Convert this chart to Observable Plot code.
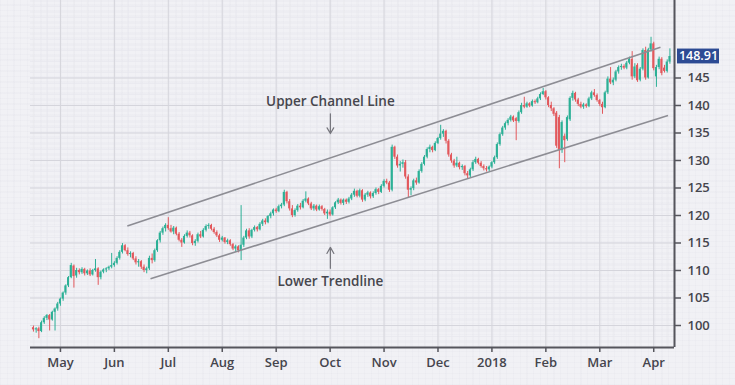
<!DOCTYPE html>
<html><head><meta charset="utf-8">
<script src="https://cdn.jsdelivr.net/npm/d3@7"></script>
<script src="https://cdn.jsdelivr.net/npm/@observablehq/plot@0.6"></script>
<style>
html,body{margin:0;padding:0;}
body{width:735px;height:385px;overflow:hidden;background-color:#f1f1f5;
background-image:repeating-linear-gradient(0deg, rgba(90,90,130,0.025) 0 1px, transparent 1px 5.5px),repeating-linear-gradient(90deg, rgba(90,90,130,0.025) 0 1px, transparent 1px 6.75px);
font-family:"Open Sans",sans-serif;}
</style></head><body><div id="chart"></div><script>
// Daily OHLC candles (index 0 = late April 2017)
const opens = [
99.6,99.2,99.4,98.9,100.5,101.3,101.8,101.0,102.4,103.0,
103.9,104.8,105.9,107.2,108.7,110.8,109.0,110.0,109.6,110.2,
109.4,109.9,109.2,110.0,110.3,108.7,109.7,110.1,110.3,110.6,
110.9,111.3,112.2,113.3,114.5,113.6,112.9,113.1,112.1,111.4,
111.6,110.6,110.0,110.3,112.2,111.8,113.6,115.4,116.8,117.6,
118.2,117.6,117.0,117.7,116.6,115.5,115.0,116.2,116.8,116.3,
114.9,115.3,116.5,116.1,117.3,118.0,118.2,117.5,116.9,116.3,
115.5,115.9,115.1,115.4,114.7,113.9,114.3,113.6,114.6,115.9,
117.2,116.1,117.3,117.8,117.4,118.4,119.0,118.7,119.8,120.3,
121.0,120.7,121.6,121.9,124.2,122.5,121.2,120.0,120.9,121.7,
121.4,122.6,123.0,122.1,121.2,121.7,121.0,121.6,121.1,120.3,
120.6,120.1,121.4,122.3,122.8,122.2,122.8,122.4,123.0,123.7,
124.4,123.5,124.5,122.8,123.7,124.1,123.4,124.0,124.7,124.2,
125.3,126.2,125.9,124.6,132.4,130.6,129.0,129.3,129.6,127.0,
124.6,124.9,126.3,125.9,128.0,129.3,130.6,132.0,132.4,131.8,
133.1,134.0,134.8,135.3,133.5,131.0,129.9,129.0,129.5,128.7,
128.9,127.6,127.2,128.3,129.6,130.2,129.5,128.9,128.5,128.3,
128.8,129.6,130.5,132.9,134.7,135.9,136.7,137.3,137.9,137.6,
137.1,138.7,140.0,139.7,140.3,139.9,140.7,140.5,141.2,142.0,
142.5,141.4,140.0,139.4,138.6,137.8,131.8,134.4,133.8,137.4,
141.3,142.2,141.0,140.2,139.7,140.1,139.8,141.2,142.3,141.8,
140.9,140.2,139.6,142.3,144.8,144.1,144.6,146.1,146.9,147.1,
146.8,147.7,148.4,145.2,147.3,144.6,146.6,150.0,145.0,150.1,
151.2,145.2,146.9,148.4,146.8,146.2,147.9];
const highs = [
99.9,99.6,99.7,100.8,101.6,102.0,102.0,102.6,103.2,104.2,
105.0,106.1,107.4,108.9,111.3,111.0,110.4,110.3,110.5,110.4,
110.1,110.3,110.2,112.0,110.5,109.9,110.3,110.5,110.8,113.1,
111.6,112.5,113.6,114.9,114.7,114.1,113.4,113.3,112.5,112.0,
111.8,111.0,110.6,112.6,113.0,113.9,115.6,117.1,117.9,118.5,
119.6,118.2,118.0,117.9,116.9,115.8,116.5,117.2,117.1,116.5,
115.6,116.8,117.1,117.6,118.3,118.5,118.4,117.8,117.2,116.6,
116.2,116.0,115.7,115.6,114.9,114.6,114.5,121.8,116.2,117.5,
117.6,117.5,118.1,118.0,118.7,119.3,119.4,120.0,120.6,121.2,
121.3,121.9,122.2,124.6,124.4,122.9,121.8,121.2,122.0,122.2,
122.9,124.3,123.2,122.4,122.0,121.9,121.9,121.8,121.3,121.0,
121.0,121.6,122.5,123.1,123.0,123.0,123.0,123.3,124.0,124.8,
124.6,124.8,124.7,124.0,124.4,124.3,124.3,125.0,124.9,125.6,
126.5,126.6,126.2,132.8,132.6,131.0,129.8,130.1,130.0,127.4,
125.2,126.6,126.8,128.3,129.6,130.9,132.3,132.8,132.6,133.4,
134.2,136.4,135.6,135.5,133.8,131.3,130.2,130.6,129.7,129.2,
129.1,128.0,128.6,130.0,130.6,130.4,129.8,129.2,128.9,129.0,
129.8,130.8,133.2,135.0,136.2,137.0,137.6,138.2,138.1,137.8,
139.0,140.4,141.5,140.6,140.5,141.0,141.0,141.5,142.3,143.1,
142.7,141.6,140.6,139.6,138.9,138.2,137.2,134.8,138.1,141.6,
142.6,142.4,141.3,140.6,140.4,140.3,141.5,142.6,142.9,142.1,
141.1,140.6,142.6,145.2,146.9,145.0,146.4,147.2,147.5,147.4,
148.0,148.8,149.8,147.6,147.6,146.9,150.3,150.6,150.4,152.4,
151.5,147.3,148.8,148.7,147.3,148.3,150.3];
const lows = [
98.8,98.6,97.6,98.7,100.2,100.9,99.0,100.8,99.0,102.6,
103.5,104.4,105.5,106.9,108.5,106.8,108.6,109.2,109.3,109.0,
109.1,108.9,109.0,109.7,107.3,108.3,109.4,109.6,110.0,110.3,
110.6,111.0,111.9,113.0,113.4,112.6,112.3,111.8,111.0,110.6,
110.2,109.6,109.4,110.0,111.2,111.5,113.3,115.0,116.4,117.0,
117.3,116.8,116.5,116.3,115.2,114.2,114.8,115.9,115.9,114.5,
114.4,115.0,115.8,115.9,117.0,117.5,117.2,116.6,116.0,115.1,
115.2,114.8,114.7,114.4,113.6,113.3,113.2,111.8,114.2,115.6,
115.7,115.8,117.0,117.0,117.2,118.0,118.3,118.5,119.4,119.9,
120.4,120.5,121.2,121.6,122.1,120.8,119.6,119.7,120.6,121.0,
121.2,122.3,121.8,120.9,120.8,120.7,120.8,120.8,120.0,119.3,
119.8,119.9,121.1,122.0,121.9,121.8,122.0,122.1,122.7,123.3,
123.2,123.2,122.4,122.5,123.3,123.0,123.1,123.7,123.8,124.0,
125.0,125.6,124.2,124.3,130.2,128.6,127.9,128.6,126.6,123.2,
123.6,124.5,125.5,125.7,127.7,129.0,130.3,131.4,131.4,131.6,
132.9,133.7,134.2,133.0,130.6,129.5,128.6,128.7,128.3,128.2,
127.2,126.6,126.9,128.0,129.3,129.2,128.6,128.1,127.9,128.0,
128.5,129.3,130.2,132.6,134.4,135.5,136.3,137.0,136.9,133.6,
136.8,138.4,139.4,139.5,139.6,139.7,140.2,140.3,140.9,141.8,
141.0,139.6,138.9,138.0,132.2,128.5,131.3,129.6,133.5,137.1,
140.8,140.6,139.8,139.4,139.3,139.5,139.6,140.9,141.5,140.6,
139.8,138.4,139.4,142.0,143.8,143.6,144.3,145.7,146.4,146.5,
146.5,147.4,144.6,144.9,144.2,144.3,146.3,144.6,144.8,149.7,
146.3,143.3,146.5,145.4,145.9,145.9,147.5];
const closes = [
99.2,99.4,98.9,100.5,101.3,101.8,101.0,102.4,103.0,103.9,
104.8,105.9,107.2,108.7,110.9,108.9,110.0,109.6,110.2,109.4,
109.9,109.2,110.0,110.3,108.7,109.7,110.1,110.3,110.6,110.9,
111.3,112.2,113.3,114.5,113.6,112.9,113.1,112.1,111.4,111.6,
110.6,110.0,110.3,112.2,111.8,113.6,115.4,116.8,117.6,118.2,
117.6,117.0,117.7,116.6,115.5,115.0,116.2,116.8,116.3,114.9,
115.3,116.5,116.1,117.3,118.0,118.2,117.5,116.9,116.3,115.5,
115.9,115.1,115.4,114.7,113.9,114.3,113.6,114.6,115.9,117.2,
116.1,117.3,117.8,117.4,118.4,119.0,118.7,119.8,120.3,121.0,
120.7,121.6,121.9,124.2,122.5,121.2,120.0,120.9,121.7,121.4,
122.6,123.0,122.1,121.2,121.7,121.0,121.6,121.1,120.3,120.6,
120.1,121.4,122.3,122.8,122.2,122.8,122.4,123.0,123.7,124.4,
123.5,124.5,122.8,123.7,124.1,123.4,124.0,124.7,124.2,125.3,
126.2,125.9,124.6,132.4,130.6,129.0,129.3,129.6,127.0,124.6,
124.9,126.3,125.9,128.0,129.3,130.6,132.0,132.4,131.8,133.1,
134.0,134.8,135.3,133.5,131.0,129.9,129.0,129.5,128.7,128.9,
127.6,127.2,128.3,129.6,130.2,129.5,128.9,128.5,128.3,128.8,
129.6,130.5,132.9,134.7,135.9,136.7,137.3,137.9,137.2,137.1,
138.7,140.0,139.7,140.3,139.9,140.7,140.5,141.2,142.0,142.5,
141.4,140.0,139.4,138.4,132.6,131.8,136.9,133.6,137.8,141.3,
142.2,141.0,140.2,139.7,140.1,139.8,141.2,142.3,141.8,140.9,
140.2,139.6,142.3,144.8,144.1,144.6,146.1,146.9,147.1,146.8,
147.7,148.4,145.2,147.0,144.5,146.6,150.0,145.0,150.1,151.2,
146.7,146.9,148.4,145.8,146.2,147.9,148.91];

// Axes
const yTicks = [100, 105, 110, 115, 120, 125, 130, 135, 140, 145];
const monthTicks = [10, 30, 50, 70, 90, 110, 130, 150, 170, 190, 210, 230];
const monthLabels = ["May","Jun","Jul","Aug","Sep","Oct","Nov","Dec","2018","Feb","Mar","Apr"];
const lastPrice = 148.91;

// Channel lines [x1, y1, x2, y2]
const upperChannel = [34.8, 118.1, 232.5, 150.6];
const lowerChannel = [43.4, 108.5, 235.3, 138.2];

// Annotations
const noteLabels = ["Upper Channel Line", "Lower Trendline"];
const noteX = [110.1, 110.1];
const noteY = [140.7, 108.0];
const arrowFrom = [138.5, 110.4];
const arrowTo = [134.9, 114.2];

const X0 = -1.1, X1 = 237.7, Y0 = 96, Y1 = 159.09;
const UP = "#2cb096", DOWN = "#e2585c";

const candles = closes.map((c, i) => ({i, o: opens[i], h: highs[i], l: lows[i], c}));
const ups = candles.filter(d => d.c >= d.o);
const downs = candles.filter(d => d.c < d.o);
const channels = [upperChannel, lowerChannel].map(([a, b, c, d]) => ({x1: a, y1: b, x2: c, y2: d}));
const notes = noteLabels.map((t, k) => ({t, x: noteX[k], y: noteY[k], y1: arrowFrom[k], y2: arrowTo[k]}));
const minorY = d3.range(96, 160, 1);
const minorX = d3.range(0, 238, 5);

const candleMarks = (data, color) => [
  Plot.ruleX(data, {x: "i", y1: "l", y2: "h", stroke: color, strokeWidth: 1}),
  Plot.rect(data, {x1: d => d.i - 0.38, x2: d => d.i + 0.38, y1: d => Math.min(d.o, d.c), y2: d => Math.max(d.o, d.c), fill: color})
];

const chart = Plot.plot({
  width: 735, height: 385,
  marginLeft: 30, marginRight: 61, marginTop: 0, marginBottom: 38,
  style: {background: "transparent", fontFamily: "'Open Sans', sans-serif", fontSize: "13px", color: "#45454d", overflow: "visible"},
  x: {type: "linear", domain: [X0, X1], axis: null},
  y: {domain: [Y0, Y1], axis: null},
  marks: [
    Plot.ruleY(minorY, {stroke: "#e6e6ec", strokeWidth: 0.6}),
    Plot.ruleX(minorX, {stroke: "#e7e7ed", strokeWidth: 0.6}),
    Plot.ruleY(yTicks, {stroke: "#d5d5dc", strokeWidth: 1}),
    Plot.ruleX(monthTicks, {stroke: "#d5d5dc", strokeWidth: 1}),
    ...candleMarks(ups, UP),
    ...candleMarks(downs, DOWN),
    Plot.link(channels, {x1: "x1", y1: "y1", x2: "x2", y2: "y2", stroke: "#8d8d94", strokeWidth: 1.6}),
    Plot.arrow(notes, {x1: "x", x2: "x", y1: "y1", y2: "y2", stroke: "#76767d", strokeWidth: 1.2, headLength: 9}),
    Plot.text(notes, {x: "x", y: "y", text: "t", fill: "#46464d", fontSize: 13.5, fontWeight: 600}),
    Plot.ruleY([Y0], {stroke: "#55555c", strokeWidth: 2}),
    Plot.ruleX([X1], {stroke: "#55555c", strokeWidth: 2}),
    Plot.axisY({anchor: "right", ticks: yTicks, tickSize: 6, tickPadding: 7, stroke: "#55555c", strokeWidth: 1.5, fill: "#45454d", fontSize: 13, fontWeight: 600, tickFormat: d => String(d)}),
    Plot.axisX({anchor: "bottom", ticks: monthTicks, tickSize: 5, tickPadding: 5, stroke: "#55555c", strokeWidth: 1.5, fill: "#45454d", fontSize: 13, fontWeight: 600, tickFormat: d => monthLabels[monthTicks.indexOf(d)]}),
    Plot.rect([lastPrice], {x1: () => X1, x2: () => X1, y1: d => d - 1.35, y2: d => d + 1.35, insetLeft: 3, insetRight: -45, fill: "#2d4b94"}),
    Plot.text([lastPrice], {x: () => X1, y: d => d, text: d => d.toFixed(2), dx: 24, fill: "white", fontSize: 12.5, fontWeight: 600})
  ]
});
document.getElementById("chart").append(chart);
</script></body></html>
